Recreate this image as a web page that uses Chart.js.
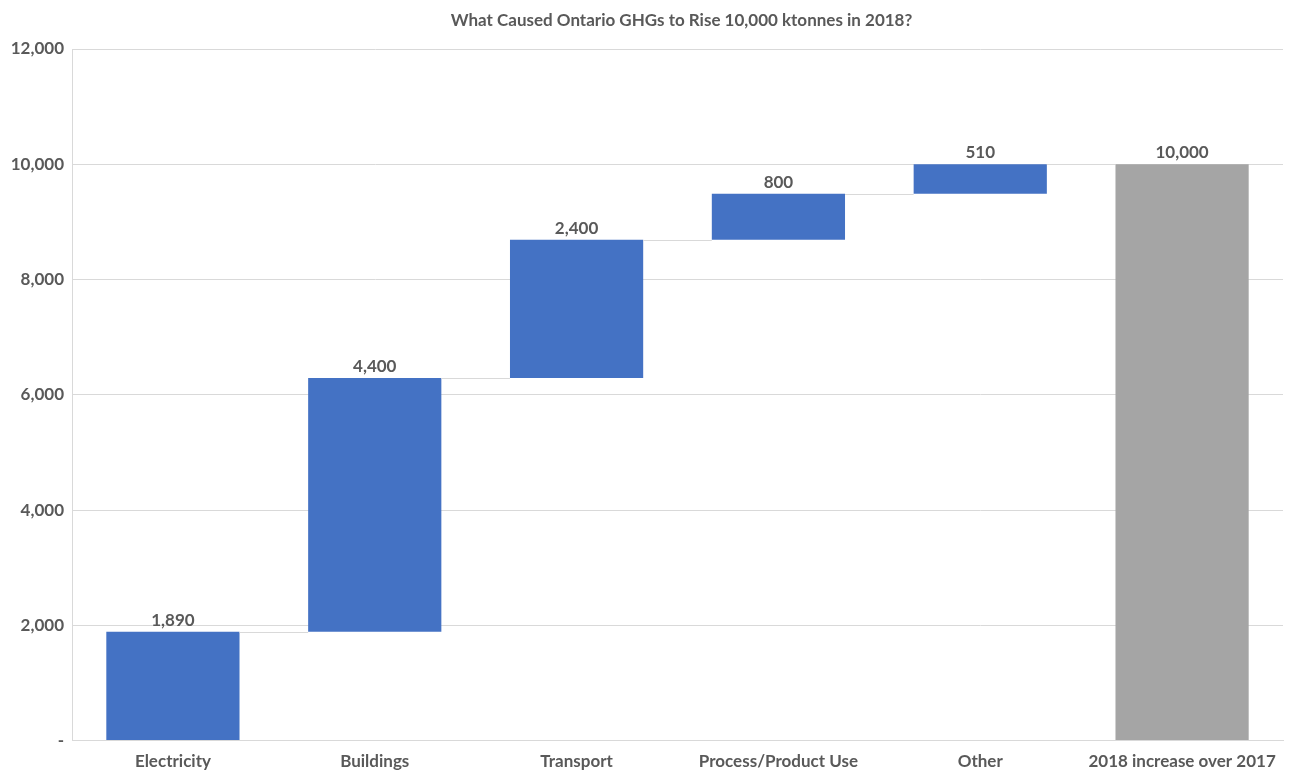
<!DOCTYPE html>
<html>
<head>
<meta charset="utf-8">
<script src="https://cdn.jsdelivr.net/npm/chart.js@4"></script>
<style>
  html, body { margin: 0; padding: 0; background: #fff; }
  #wrap { width: 1293px; height: 780px; }
</style>
</head>
<body>
<div id="wrap"><canvas id="chart" width="1293" height="780"></canvas></div>
<script>
const categories = ['Electricity', 'Buildings', 'Transport', 'Process/Product Use', 'Other', '2018 increase over 2017'];
const changes = [1890, 4400, 2400, 800, 510];
const total = 10000;
const yTicks = [0, 2000, 4000, 6000, 8000, 10000, 12000];
const titleText = 'What Caused Ontario GHGs to Rise 10,000 ktonnes in 2018?';

// floating bars: [start, end]
const ranges = [];
let running = 0;
changes.forEach(v => { ranges.push([running, running + v]); running += v; });
ranges.push([0, total]);
const labelValues = changes.concat([total]);
const colors = categories.map((c, i) => i === categories.length - 1 ? '#a5a5a5' : '#4472c4');

const fmt = v => v.toLocaleString('en-US');
const FONT = 'Lato, "Open Sans", sans-serif';
const TEXT = '#595959';

const waterfallExtras = {
  id: 'waterfallExtras',
  afterDatasetsDraw(chart) {
    const ctx = chart.ctx;
    const meta = chart.getDatasetMeta(0);
    const y = chart.scales.y;
    ctx.save();
    // connector lines
    ctx.strokeStyle = '#d9d9d9';
    ctx.lineWidth = 1;
    for (let i = 0; i < meta.data.length - 1; i++) {
      const a = meta.data[i], b = meta.data[i + 1];
      const level = Math.round(y.getPixelForValue(ranges[i][1])) + 0.5;
      ctx.beginPath();
      ctx.moveTo(a.x + a.width / 2, level);
      ctx.lineTo(b.x - b.width / 2, level);
      ctx.stroke();
    }
    // value labels
    ctx.fillStyle = TEXT;
    ctx.font = 'bold 17px ' + FONT;
    ctx.textAlign = 'center';
    ctx.textBaseline = 'bottom';
    meta.data.forEach((bar, i) => {
      const top = y.getPixelForValue(ranges[i][1]);
      ctx.fillText(fmt(labelValues[i]), bar.x, top - 3);
    });
    // title, centred over the plot area
    ctx.font = 'bold 17px ' + FONT;
    ctx.textBaseline = 'middle';
    ctx.fillText(titleText, (chart.chartArea.left + chart.chartArea.right) / 2 + 4, 21);
    ctx.restore();
  }
};

const chart = new Chart(document.getElementById('chart'), {
  type: 'bar',
  data: {
    labels: categories,
    datasets: [{
      data: ranges,
      backgroundColor: colors,
      borderWidth: 0,
      categoryPercentage: 1,
      barPercentage: 0.66
    }]
  },
  options: {
    responsive: false,
    animation: false,
    layout: { padding: { left: 10, right: 10, top: 49, bottom: -3 } },
    plugins: {
      legend: { display: false },
      tooltip: { enabled: false },
      title: { display: false }
    },
    scales: {
      x: {
        grid: { display: false, drawTicks: false },
        border: { color: '#d9d9d9' },
        ticks: { color: TEXT, font: { family: FONT, size: 17, weight: 'bold' }, padding: 11, maxRotation: 0 }
      },
      y: {
        min: 0,
        max: 12000,
        afterBuildTicks: s => { s.ticks = yTicks.map(v => ({ value: v })); },
        afterFit: s => { s.width = 62; },
        grid: { color: '#d9d9d9', drawTicks: false },
        border: { color: '#d9d9d9' },
        ticks: {
          color: TEXT,
          font: { family: FONT, size: 17, weight: 'bold' },
          padding: 8,
          callback: v => v === 0 ? '-' : fmt(v)
        }
      }
    }
  },
  plugins: [waterfallExtras]
});
</script>
</body>
</html>
